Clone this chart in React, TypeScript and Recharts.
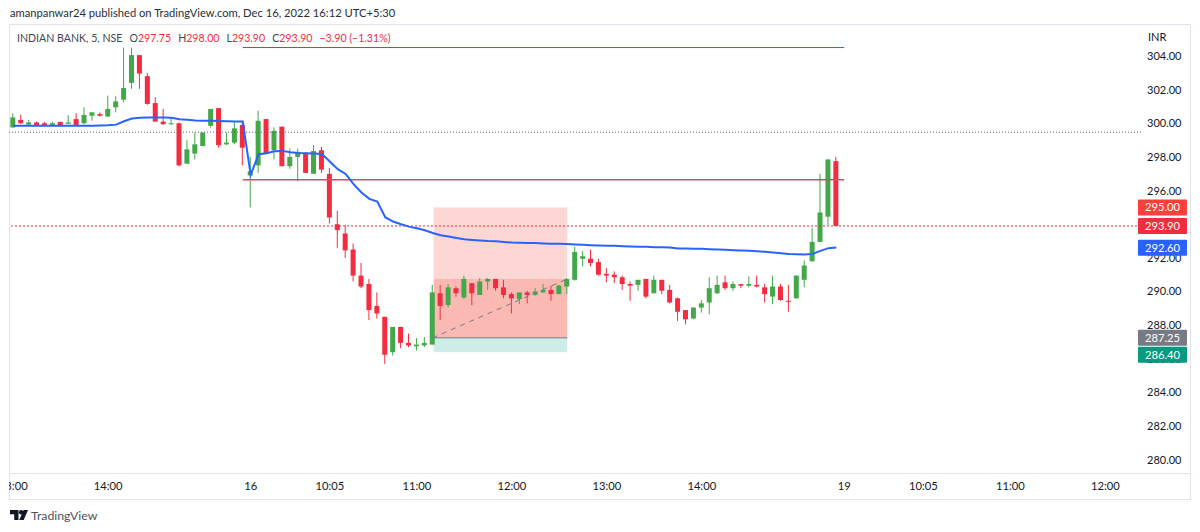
import {
  Bar,
  ComposedChart,
  Line,
  ReferenceArea,
  ReferenceLine,
  XAxis,
  YAxis,
} from "recharts";

const UI_FONT = 'Lato, "Noto Sans", sans-serif';
const GREEN = "#43a84a";
const RED = "#f42c40";

const opens = [
  299.75, 300.2, 299.92, 300.05, 300.0, 299.9, 300.08, 299.97, 300.25, 300.0, 300.45, 300.55, 300.4, 300.95, 301.4,
  302.4, 304.05, 302.8, 301.2, 300.1, 299.95, 300.0, 297.6, 298.2, 298.65, 299.85, 300.9, 298.75, 298.85, 299.9,
  296.9, 297.5, 300.25, 298.4, 299.8, 297.45, 298.0, 298.2, 297.0, 298.4, 297.0, 294.0, 293.45, 292.5, 290.95,
  290.45, 289.15, 288.5, 286.4, 287.9, 286.95, 286.75, 286.8, 286.85, 289.9, 289.2, 290.2, 289.65, 290.5, 289.8,
  290.6, 290.75, 290.25, 289.85, 289.55, 289.95, 289.8, 289.95, 290.1, 289.85, 290.3, 290.7, 291.95, 291.95, 291.75,
  291.05, 291.0, 290.85, 290.45, 290.4, 290.75, 289.9, 290.7, 290.1, 289.6, 288.9, 288.4, 289.05, 289.35, 289.9,
  290.55, 290.2, 290.45, 290.35, 290.4, 290.25, 289.7, 290.3, 289.45, 289.6, 290.7, 291.8, 292.95, 294.45, 297.75,
];
const highs = [
  300.6, 300.5, 300.2, 300.1, 300.08, 300.1, 300.1, 300.48, 300.6, 300.95, 300.65, 300.65, 301.65, 301.6, 304.5,
  304.5, 304.05, 303.0, 301.55, 300.85, 300.3, 300.05, 299.0, 299.45, 299.45, 300.85, 300.9, 299.45, 300.05, 300.0,
  298.0, 300.75, 300.25, 299.75, 299.8, 298.5, 298.5, 298.3, 298.7, 298.6, 297.35, 294.8, 293.95, 292.85, 291.7,
  290.75, 289.95, 288.5, 287.9, 287.9, 287.5, 287.25, 287.3, 290.4, 290.4, 290.45, 290.3, 290.95, 290.5, 290.8,
  290.8, 290.75, 290.7, 289.95, 289.95, 290.05, 290.2, 290.45, 290.35, 290.4, 290.8, 292.65, 292.4, 292.5, 291.95,
  291.4, 291.2, 290.95, 290.6, 290.7, 290.75, 290.95, 290.7, 290.4, 289.65, 288.9, 289.05, 289.5, 290.85, 290.95,
  290.95, 290.6, 290.45, 290.9, 290.95, 290.45, 290.95, 290.45, 290.4, 290.95, 291.85, 293.8, 297.0, 297.85, 298.0,
];
const lows = [
  299.75, 299.97, 299.85, 299.85, 299.85, 299.85, 299.9, 299.97, 299.9, 299.95, 300.15, 300.4, 300.4, 300.65, 301.25,
  302.05, 302.05, 301.1, 300.1, 299.9, 299.9, 297.45, 297.6, 297.85, 298.65, 299.75, 298.55, 298.7, 298.75, 297.5,
  295.0, 297.05, 298.2, 297.85, 297.45, 297.3, 296.55, 297.05, 297.0, 297.05, 294.05, 292.6, 292.0, 290.6, 290.2,
  288.3, 288.4, 285.7, 286.2, 286.65, 286.7, 286.5, 286.7, 286.85, 288.3, 289.05, 289.7, 289.55, 289.2, 289.8,
  290.1, 290.05, 289.6, 288.7, 289.25, 289.3, 289.75, 289.95, 289.45, 289.85, 289.85, 290.65, 291.5, 291.5, 290.95,
  290.55, 290.5, 290.1, 289.45, 290.05, 289.6, 289.9, 289.85, 289.3, 288.25, 288.05, 288.35, 288.75, 288.65, 289.85,
  290.1, 290.05, 290.2, 290.25, 290.25, 289.35, 289.25, 289.45, 288.8, 289.6, 290.25, 291.8, 292.95, 293.95, 293.9,
];
const closes = [
  300.35, 300.0, 300.05, 299.9, 299.9, 300.0, 299.9, 300.05, 299.9, 300.5, 300.65, 300.45, 300.85, 301.3, 302.1,
  304.05, 302.95, 301.15, 300.1, 299.95, 300.0, 297.5, 298.45, 298.75, 299.45, 300.85, 298.7, 298.85, 299.7, 298.55,
  297.15, 300.15, 298.2, 299.55, 297.45, 298.0, 298.3, 297.05, 298.35, 297.25, 294.4, 293.65, 292.45, 290.95, 290.3,
  288.9, 288.7, 286.25, 287.9, 286.95, 286.8, 286.85, 286.95, 289.95, 289.15, 290.25, 289.9, 290.75, 289.9, 290.6,
  290.75, 290.2, 289.8, 289.6, 289.95, 289.8, 290.0, 290.1, 289.85, 290.35, 290.75, 292.35, 292.1, 291.7, 291.0,
  290.95, 290.85, 290.45, 290.35, 290.7, 289.7, 290.7, 290.05, 289.35, 288.8, 288.35, 289.05, 289.3, 290.2, 290.4,
  290.2, 290.45, 290.35, 290.45, 290.3, 289.85, 290.3, 289.5, 289.4, 290.95, 291.55, 292.95, 294.7, 297.85, 293.9,
];
const vwap = [
  299.85, 299.85, 299.85, 299.85, 299.85, 299.85, 299.85, 299.85, 299.85, 299.85, 299.85, 299.87, 299.88, 299.92, 300.12,
  300.28, 300.33, 300.34, 300.34, 300.34, 300.33, 300.24, 300.21, 300.17, 300.15, 300.15, 300.13, 300.12, 300.11, 300.1,
  296.94, 298.16, 298.22, 298.34, 298.36, 298.28, 298.24, 298.22, 298.2, 298.18, 297.73, 297.27, 296.99, 296.38, 295.89,
  295.51, 295.35, 294.42, 294.16, 294.0, 293.86, 293.76, 293.64, 293.48, 293.35, 293.27, 293.19, 293.11, 293.07, 293.03,
  293.0, 292.99, 292.95, 292.91, 292.9, 292.88, 292.88, 292.86, 292.84, 292.84, 292.82, 292.8, 292.78, 292.76, 292.74,
  292.72, 292.72, 292.7, 292.68, 292.66, 292.66, 292.64, 292.64, 292.62, 292.56, 292.56, 292.54, 292.54, 292.52, 292.5,
  292.48, 292.46, 292.44, 292.42, 292.4, 292.36, 292.32, 292.28, 292.24, 292.22, 292.2, 292.24, 292.42, 292.58, 292.62,
];

const slotCount = 143;
const priceTicks = [280, 282, 284, 286, 288, 290, 292, 296, 298, 300, 302, 304];
const timeTickSlots = [0, 12, 30, 40, 51, 63, 75, 87, 105, 115, 126, 138];
const timeTickLabels = ["13:00", "14:00", "16", "10:05", "11:00", "12:00", "13:00", "14:00", "19", "10:05", "11:00", "12:00"];
const tagPrices = [295, 293.9, 292.6, 287.25, 286.4];
const tagColors = ["#f9403a", "#f42c40", "#2962ff", "#787b86", "#089981"];

const rows = Array.from({ length: slotCount }, (_, slot) =>
  slot < opens.length
    ? {
        slot,
        open: opens[slot],
        close: closes[slot],
        high: highs[slot],
        low: lows[slot],
        range: [lows[slot], highs[slot]],
        vwap: vwap[slot],
      }
    : { slot },
);

function Candle(props: any) {
  const { x, y, width, height, payload } = props;
  if (!payload || payload.open == null) return null;
  const perUnit = height / (payload.high - payload.low);
  const bodyTop = y + (payload.high - Math.max(payload.open, payload.close)) * perUnit;
  const bodyHeight = Math.max(1, Math.abs(payload.open - payload.close) * perUnit);
  const color = payload.close >= payload.open ? GREEN : RED;
  return (
    <g>
      <rect x={x + width / 2 - 0.5} y={y} width={1} height={height} fill={color} />
      <rect x={x} y={bodyTop} width={width} height={bodyHeight} fill={color} />
    </g>
  );
}

function TimeTick({ x, y, payload }: any) {
  const at = timeTickSlots.indexOf(payload.value);
  return (
    <text
      x={x}
      y={y + 8}
      textAnchor="middle"
      fontFamily={UI_FONT}
      fontSize={11.2}
      fill="#131722"
      clipPath="url(#plotClip)"
    >
      {timeTickLabels[at]}
    </text>
  );
}

// second axis sits after the price axis, so these cover the tick labels like in TV
function TagTick({ y, payload }: any) {
  const at = tagPrices.indexOf(payload.value);
  const mid = y + (payload.value === 286.4 ? 2.5 : 0);
  return (
    <g>
      <rect x={1138} y={mid - 8} width={49} height={16} rx={1} fill={tagColors[at]} />
      <text
        x={1162.5}
        y={mid + 4}
        textAnchor="middle"
        fontFamily={UI_FONT}
        fontSize={11.2}
        fill="#ffffff"
      >
        {payload.value.toFixed(2)}
      </text>
    </g>
  );
}

function InsetArea({ x, y, width, height, fill, fillOpacity }: any) {
  return <rect x={x + 5} y={y} width={width - 9} height={height} fill={fill} fillOpacity={fillOpacity} />;
}

function Logo() {
  return (
    <svg width={18} height={10} viewBox="0 0 18 10" style={{ position: "absolute", left: 9.5, top: 510 }}>
      <path d="M0 0h8.5v10H4.2V4.3H0z M13.6 0H18L13.7 10H9.2z" fill="#131722" />
      <circle cx={11.1} cy={2.2} r={2.2} fill="#131722" />
    </svg>
  );
}

const redText = { color: "#f42c40" };

export default function App() {
  return (
    <div
      style={{
        position: "absolute",
        left: 0,
        top: 0,
        width: 1200,
        height: 532,
        background: "#fff",
        fontFamily: UI_FONT,
        overflow: "hidden",
      }}
    >
      <div
        style={{
          position: "absolute",
          left: 9,
          top: 24,
          width: 1180,
          height: 474,
          border: "1px solid #e0e3eb",
        }}
      />
      <div style={{ position: "absolute", left: 9, top: 473, width: 1181, height: 1, background: "#e0e3eb" }} />
      <ComposedChart
        width={1200}
        height={532}
        data={rows}
        margin={{ top: 25, right: 6, bottom: 33, left: 9.3 }}
        barSize={5}
        style={{ position: "absolute", left: 0, top: 0 }}
      >
        <defs>
          <clipPath id="plotClip">
            <rect x={9} y={0} width={1180} height={532} />
          </clipPath>
        </defs>
        <XAxis
          dataKey="slot"
          type="category"
          ticks={timeTickSlots}
          interval={0}
          height={25.5}
          tick={<TimeTick />}
          tickLine={false}
          axisLine={false}
        />
        <YAxis
          orientation="right"
          width={52}
          domain={[279.19, 305.84]}
          allowDataOverflow
          ticks={priceTicks}
          interval={0}
          tickLine={false}
          axisLine={false}
          tickMargin={0}
          tick={{ fontSize: 11, fontFamily: UI_FONT, fill: "#131722", textAnchor: "start" }}
          tickFormatter={(value: number) => value.toFixed(2)}
        />
        <YAxis
          yAxisId="tags"
          orientation="right"
          width={1}
          domain={[279.19, 305.84]}
          allowDataOverflow
          ticks={tagPrices}
          interval={0}
          tickLine={false}
          axisLine={false}
          tick={<TagTick />}
        />
        <ReferenceArea x1={53} x2={70} y1={295} y2={287.25} fill="#f44336" fillOpacity={0.21} shape={<InsetArea />} />
        <ReferenceArea x1={53} x2={70} y1={290.75} y2={287.25} fill="#f44336" fillOpacity={0.2} shape={<InsetArea />} />
        <ReferenceArea x1={53} x2={70} y1={287.25} y2={286.4} fill="#22ab94" fillOpacity={0.22} shape={<InsetArea />} />
        <ReferenceLine y={299.47} stroke="#555a66" strokeDasharray="1 2" />
        <ReferenceLine y={293.9} stroke="#f42c40" strokeDasharray="2 2" />
        <ReferenceLine
          segment={[
            { x: 29, y: 304.5 },
            { x: 105, y: 304.5 },
          ]}
          stroke="#1f8a3a"
        />
        <ReferenceLine
          segment={[
            { x: 29, y: 296.65 },
            { x: 105, y: 296.65 },
          ]}
          stroke="#c25565"
          strokeWidth={1.5}
        />
        <Bar dataKey="range" shape={<Candle />} isAnimationActive={false} />
        <Line
          dataKey="vwap"
          type="linear"
          stroke="#2962ff"
          strokeWidth={2}
          dot={false}
          activeDot={false}
          connectNulls={false}
          isAnimationActive={false}
        />
        <ReferenceLine
          segment={[
            { x: 53, y: 287.25 },
            { x: 70, y: 287.25 },
          ]}
          stroke="#787b86"
        />
        <ReferenceLine
          segment={[
            { x: 53, y: 287.25 },
            { x: 70, y: 290.75 },
          ]}
          stroke="#787b86"
          strokeDasharray="5 5"
        />
      </ComposedChart>

      <div style={{ position: "absolute", left: 10, top: 6, fontSize: 11.2, color: "#2a2e39", whiteSpace: "nowrap" }}>
        amanpanwar24 published on TradingView.com, Dec 16, 2022 16:12 UTC+5:30
      </div>
      <div style={{ position: "absolute", left: 17, top: 32, fontSize: 10.6, color: "#434651", whiteSpace: "nowrap" }}>
        INDIAN BANK, 5, NSE
        <span style={{ marginLeft: 7 }}>O</span>
        <span style={redText}>297.75</span>
        <span style={{ marginLeft: 7 }}>H</span>
        <span style={redText}>298.00</span>
        <span style={{ marginLeft: 7 }}>L</span>
        <span style={redText}>293.90</span>
        <span style={{ marginLeft: 7 }}>C</span>
        <span style={redText}>293.90</span>
        <span style={{ marginLeft: 7, ...redText }}>−3.90 (−1.31%)</span>
      </div>
      <div style={{ position: "absolute", left: 1148, top: 30, fontSize: 11, color: "#131722" }}>INR</div>
      <Logo />
      <div style={{ position: "absolute", left: 31, top: 508, fontSize: 12.3, color: "#50535e" }}>TradingView</div>
    </div>
  );
}
